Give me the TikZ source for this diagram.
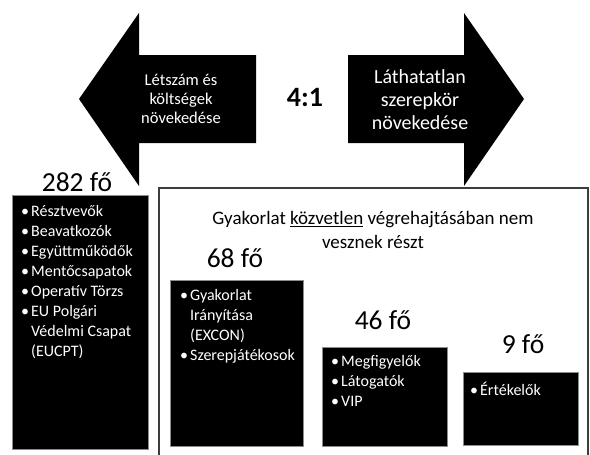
\documentclass[tikz,border=0pt]{standalone}
\usepackage{fontspec}
\setmainfont{Carlito}
\usepackage{tikz}
\usetikzlibrary{positioning}
\definecolor{boxline}{HTML}{8C8C8C}
\definecolor{framegray}{HTML}{3C3C3C}
\newcommand\bul{\makebox[10pt][l]{\textbullet}}
\newcommand\ind{\hspace*{10pt}}

\begin{document}
\begin{tikzpicture}[x=1pt, y=-1pt,
    bigarrow/.style={fill=black},
    arrowtext/.style={align=center, text=white, inner sep=0pt},
    blackbox/.style={rectangle, draw=boxline, fill=black, line width=0.8pt,
                     anchor=north west, inner sep=0pt},
    itemlist/.style={anchor=north west, align=left, text=white, inner sep=0pt,
                     font=\fontsize{16}{20}\selectfont},
    count/.style={font=\fontsize{27.5}{30}\selectfont, inner sep=0pt},
    frame/.style={rectangle, draw=framegray, line width=1.6pt, anchor=north west,
                  inner sep=0pt}
  ]
    \useasboundingbox (0,0) rectangle (590,455);
    \clip (0,0) rectangle (590,455);

    % Arrows
    \fill[bigarrow] (79,99) -- (139,13) -- (139,55) -- (256,55) -- (256,143)
      -- (139,143) -- (139,186) -- cycle;
    \fill[bigarrow] (524,99) -- (464,13) -- (464,55) -- (348,55) -- (348,143)
      -- (464,143) -- (464,186) -- cycle;
    \node[arrowtext, font=\fontsize{16.5}{19}\selectfont] (growleft) at (181,99)
      {Létszám és\\költségek\\növekedése};
    \node[arrowtext, font=\fontsize{20}{23}\selectfont] (growright) at (420,100)
      {Láthatatlan\\szerepkör\\növekedése};
    \node[font=\bfseries\fontsize{28}{30}\selectfont, inner sep=0pt] (ratio) at (305,98) {4:1};

    % Frame
    \node[frame, minimum width=429, minimum height=290] (indirect) at (158,187) {};
    \node[align=center, font=\fontsize{19}{24}\selectfont, inner sep=0pt] (heading) at (373,230)
      {Gyakorlat \underline{közvetlen} végrehajtásában nem\\vesznek részt};

    % Boxes
    \node[blackbox, minimum width=136, minimum height=254] (players) at (12,195) {};
    \node[blackbox, minimum width=133, minimum height=166] (control) at (170,280) {};
    \node[blackbox, minimum width=125, minimum height=99] (guests) at (322,347) {};
    \node[blackbox, minimum width=115, minimum height=73] (raters) at (463,372) {};

    % Lists
    \node[itemlist] (playerlist) at ([shift={(9,10)}]players.north west)
      {\bul Résztvevők\\ \bul Beavatkozók\\ \bul Együttműködők\\ \bul Mentőcsapatok\\
       \bul Operatív Törzs\\ \bul EU Polgári\\ \ind Védelmi Csapat\\ \ind (EUCPT)};
    \node[itemlist] (controllist) at ([shift={(10,9)}]control.north west)
      {\bul Gyakorlat\\ \ind Irányítása\\ \ind (EXCON)\\ \bul Szerepjátékosok};
    \node[itemlist] (guestlist) at ([shift={(9,8)}]guests.north west)
      {\bul Megfigyelők\\ \bul Látogatók\\ \bul VIP};
    \node[itemlist] (raterlist) at ([shift={(7,10)}]raters.north west)
      {\bul Értékelők};

    % Head counts
    \node[count] (n282) at (77,182) {282 fő};
    \node[count] (n68) at (235,258) {68 fő};
    \node[count] (n46) at (383,320) {46 fő};
    \node[count] (n9) at (523,344) {9 fő};
  \end{tikzpicture}
\end{document}
